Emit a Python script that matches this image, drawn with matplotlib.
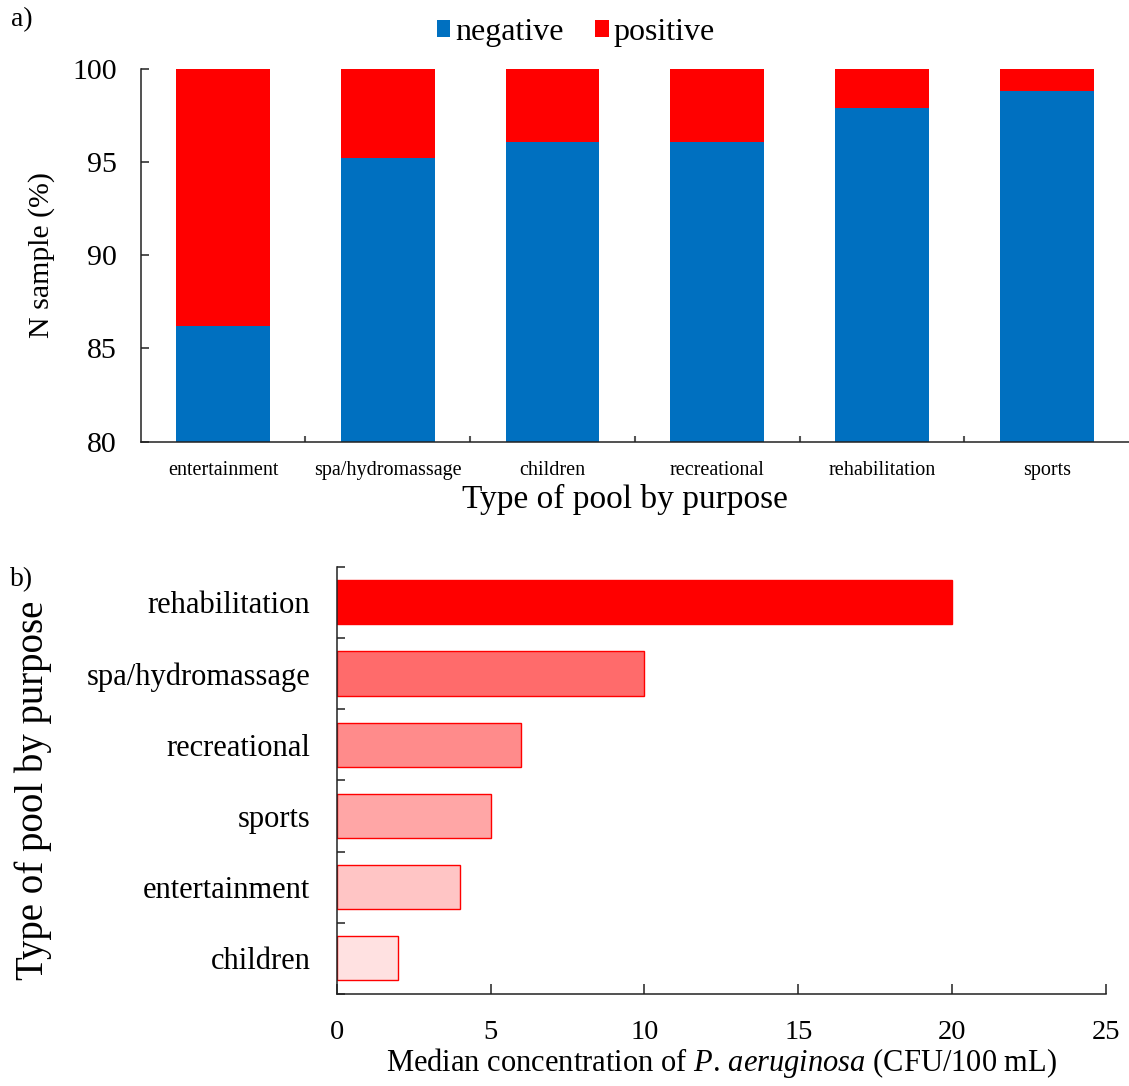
import matplotlib.pyplot as plt
import numpy as np

plt.rcParams['font.family'] = ['Liberation Serif', 'DejaVu Serif']
plt.rcParams['mathtext.fontset'] = 'custom'
plt.rcParams['mathtext.it'] = 'Liberation Serif:italic'
plt.rcParams['mathtext.rm'] = 'Liberation Serif'

# panel a: share of negative / positive samples per pool type
pools_a = ['entertainment', 'spa/hydromassage', 'children', 'recreational',
           'rehabilitation', 'sports']
negative = [86.2, 95.2, 96.1, 96.1, 97.9, 98.8]
positive = [100 - v for v in negative]

# panel b: median P. aeruginosa concentration (CFU/100 mL)
pools_b = ['children', 'entertainment', 'sports', 'recreational',
           'spa/hydromassage', 'rehabilitation']
median_conc = [2, 4, 5, 6, 10, 20]
bar_colors = ['#FFE1E1', '#FFC5C5', '#FFA6A6', '#FF8B8B', '#FF6B6B', '#FF0000']

BLUE = '#0070C0'
RED = '#FF0000'
AXC = '#222222'

fig = plt.figure(figsize=(11.29, 10.86), dpi=100)

# ---- a) stacked bars ----
ax1 = fig.add_axes([0.1246, 0.5933, 0.8754, 0.3432])
x = np.arange(len(pools_a))
ax1.bar(x, negative, width=0.57, color=BLUE, label='negative')
ax1.bar(x, positive, width=0.57, bottom=negative, color=RED, label='positive')
ax1.set_xlim(-0.5, 5.5)
ax1.set_ylim(80, 100)
ax1.set_yticks([80, 85, 90, 95, 100])
ax1.set_xticks(x)
ax1.set_xticklabels(pools_a, fontsize=14.5)
ax1.set_xticks(np.arange(0.5, 5, 1), minor=True)
ax1.tick_params(axis='x', which='major', length=0, pad=14)
ax1.tick_params(axis='x', which='minor', direction='in', length=4,
                width=1.5, color='#555555')
ax1.tick_params(axis='y', direction='in', length=6, width=1.1, pad=17,
                labelsize=21.5, color=AXC)
for s in ['top', 'right']:
    ax1.spines[s].set_visible(False)
for s in ['left', 'bottom']:
    ax1.spines[s].set_color(AXC)
    ax1.spines[s].set_linewidth(1.1)
ax1.set_xlabel('Type of pool by purpose', fontsize=24)
ax1.xaxis.label.set_va('center')
ax1.xaxis.set_label_coords(0.49, -0.156)
ax1.set_ylabel('N sample (%)', fontsize=21.5)
ax1.yaxis.label.set_va('center')
ax1.yaxis.set_label_coords(-0.1, 0.5)
fig.legend(loc='center', bbox_to_anchor=(0.51, 0.97), ncol=2, frameon=False,
           fontsize=23, handlelength=0.42, handleheight=0.42,
           handletextpad=0.15, columnspacing=1.0)
fig.text(0.0195, 0.9816, 'a)', fontsize=20, ha='center', va='center')

# ---- b) horizontal bars ----
ax2 = fig.add_axes([0.2982, 0.0847, 0.6814, 0.3935])
y = np.arange(len(pools_b))
ax2.barh(y, median_conc, height=0.62, color=bar_colors, edgecolor=RED,
         linewidth=1.0)
ax2.set_xlim(0, 25)
ax2.set_ylim(-0.5, 5.5)
ax2.set_xticks([0, 5, 10, 15, 20, 25])
ax2.set_yticks(y)
ax2.set_yticklabels(pools_b)
ax2.set_yticks(np.arange(-0.5, 6, 1), minor=True)
ax2.tick_params(axis='y', which='major', length=0, pad=19, labelsize=22)
ax2.tick_params(axis='y', which='minor', direction='in', length=6,
                width=1.1, color=AXC)
ax2.tick_params(axis='x', direction='in', length=7, width=1.1, pad=19,
                labelsize=20.5, color=AXC)
for s in ['top', 'right']:
    ax2.spines[s].set_visible(False)
for s in ['left', 'bottom']:
    ax2.spines[s].set_color(AXC)
    ax2.spines[s].set_linewidth(1.1)
ax2.set_xlabel(r'Median concentration of $\mathit{P.}\,\mathit{aeruginosa}$ (CFU/100 mL)',
               fontsize=22)
ax2.xaxis.label.set_va('center')
ax2.xaxis.set_label_coords(0.5, -0.1615)
ax2.set_ylabel('Type of pool by purpose', fontsize=28)
ax2.yaxis.label.set_va('center')
ax2.yaxis.set_label_coords(-0.395, 0.477)
fig.text(0.0195, 0.466, 'b)', fontsize=20, ha='center', va='center')

fig.savefig('out.png', dpi=100)
